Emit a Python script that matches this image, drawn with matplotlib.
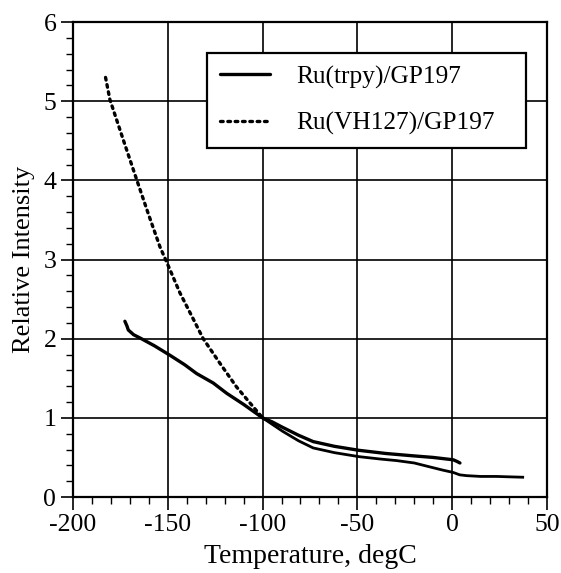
import numpy as np
import matplotlib.pyplot as plt
from matplotlib.ticker import MultipleLocator

# Ru(trpy)/GP197 (solid)
trpy_t = [-172.6, -171.5, -170.8, -168.0, -164.7, -157.0, -148.8, -141.0, -134.8, -126.0,
          -118.9, -110.0, -100.0, -95.0, -89.4, -81.0, -73.3, -62.0, -49.2, -35.0,
          -20.5, -10.0, 0.6, 2.5, 4.1]
trpy_i = [2.22, 2.16, 2.11, 2.05, 2.01, 1.91, 1.79, 1.67, 1.56, 1.44,
          1.31, 1.17, 1.00, 0.95, 0.88, 0.78, 0.70, 0.64, 0.59, 0.55,
          0.52, 0.50, 0.47, 0.45, 0.43]

# Ru(VH127)/GP197 (dotted)
vh_t = [-182.8, -180.5, -173.0, -166.4, -160.0, -154.1, -148.8, -143.6, -137.0, -131.3,
        -122.5, -113.7, -106.0, -100.0, -95.0, -89.4, -81.0, -73.3, -62.0, -49.2,
        -38.0, -29.3, -20.0, -11.7, -5.0, 0.6, 4.0, 7.6, 15.0, 23.5, 30.0, 37.2]
vh_i = [5.30, 5.02, 4.48, 4.01, 3.56, 3.16, 2.87, 2.58, 2.27, 2.00,
        1.69, 1.39, 1.17, 1.00, 0.92, 0.83, 0.71, 0.62, 0.56, 0.51,
        0.48, 0.46, 0.43, 0.38, 0.34, 0.31, 0.28, 0.27, 0.26, 0.26, 0.255, 0.25]

plt.rcParams['font.family'] = ['Liberation Serif', 'DejaVu Serif']
plt.rcParams['axes.unicode_minus'] = False

fig = plt.figure(figsize=(5.61, 5.73), dpi=100)
ax = fig.add_axes([0.130, 0.1326, 0.845, 0.829])

ax.plot(trpy_t, trpy_i, color='black', lw=2.4, solid_capstyle='round',
        label='Ru(trpy)/GP197')

vh_t = np.array(vh_t)
vh_i = np.array(vh_i)
cold = vh_t <= -100
warm = vh_t >= -100
ax.plot(vh_t[cold], vh_i[cold], color='black', lw=2.4,
        linestyle=(0, (0.8, 1.4)), dash_capstyle='round',
        label='Ru(VH127)/GP197')
ax.plot(vh_t[warm], vh_i[warm], color='black', lw=2.0)

ax.set_xlim(-200, 50)
ax.set_ylim(0, 6)
ax.xaxis.set_major_locator(MultipleLocator(50))
ax.xaxis.set_minor_locator(MultipleLocator(10))
ax.yaxis.set_major_locator(MultipleLocator(1))
ax.yaxis.set_minor_locator(MultipleLocator(0.2))
ax.grid(True, which='major', color='black', lw=1.2)
ax.set_axisbelow(True)
ax.tick_params(which='major', direction='out', length=9, width=1.2,
               labelsize=18.5, colors='black', pad=3)
ax.tick_params(which='minor', direction='out', length=5, width=1.0)
for s in ax.spines.values():
    s.set_linewidth(1.6)

ax.set_xlabel('Temperature, degC', fontsize=20, labelpad=6)
ax.set_ylabel('Relative Intensity', fontsize=19, labelpad=6)

leg = ax.legend(loc='upper left', bbox_to_anchor=(0.2827, 0.733, 0.673, 0.202),
                mode='expand', borderaxespad=0, fontsize=18.3, fancybox=False,
                framealpha=1, edgecolor='black', handlelength=2.0,
                handletextpad=1.0, borderpad=0.5, labelspacing=0.9)
leg.get_frame().set_linewidth(1.6)

fig.savefig('out.png', dpi=100)
